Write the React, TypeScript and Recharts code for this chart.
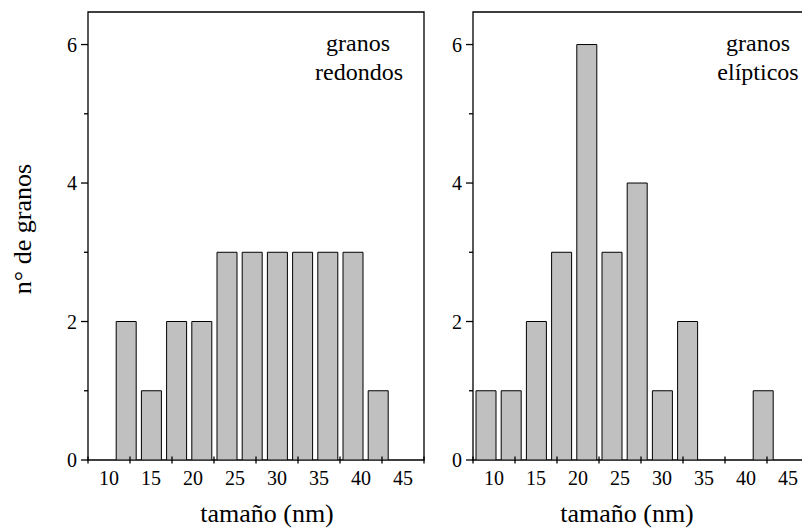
import React from 'react';
import { BarChart, Bar, XAxis, YAxis, ReferenceArea } from 'recharts';

// ---- data ----
const sizes = [9, 12, 15, 18, 21, 24, 27, 30, 33, 36, 39, 42];
const countsRound = [null, 2, 1, 2, 2, 3, 3, 3, 3, 3, 3, 1];
const countsElliptic = [1, 1, 2, 3, 6, 3, 4, 1, 2, 0, 0, 1];

const xLabelTicks = [10, 15, 20, 25, 30, 35, 40, 45];
const xMarkTicks = [7.5, 12.5, 17.5, 22.5, 27.5, 32.5, 37.5, 42.5, 47.5];
const yTicks = [0, 1, 2, 3, 4, 5, 6];
const yLabelTicks = [0, 2, 4, 6];

const TITLE_X = 'tama\u00f1o (nm)';
const TITLE_Y = 'n\u00b0 de granos';
const NOTE_ROUND = ['granos', 'redondos'];
const NOTE_ELLIPTIC = ['granos', 'el\u00edpticos'];

// ---- layout ----
const PLOT_LEFT = 88;
const PANEL_WIDTH = 336; // 7.5 .. 47.5
const PANEL_SHIFT_PX = 385; // right panel offset
const PX_PER_UNIT = PANEL_WIDTH / 40;
const SHIFT_UNITS = PANEL_SHIFT_PX / PX_PER_UNIT;
const FULL_UNITS = (802 - PLOT_LEFT) / PX_PER_UNIT;

const PANEL_RANGE: [number, number] = [7.5, 47.5];
const Y_DOMAIN: [number, number] = [0, 6.47];
const X_DOMAIN_ROUND: [number, number] = [7.5, 7.5 + FULL_UNITS];
const X_DOMAIN_ELLIPTIC: [number, number] = [7.5 - SHIFT_UNITS, 7.5 + FULL_UNITS - SHIFT_UNITS];

const data = sizes.map((s, i) => ({
  size: s,
  round: countsRound[i] === null ? undefined : countsRound[i],
  elliptic: countsElliptic[i],
}));

const panelTicks = [...xMarkTicks, ...xLabelTicks].sort((a, b) => a - b);
const allXTicks = [
  ...panelTicks,
  ...panelTicks.map((t) => t + SHIFT_UNITS).filter((t) => t <= X_DOMAIN_ROUND[1]),
];

const FONT = 'Liberation Serif';

const XTick = (props: any) => {
  const { x, y, payload } = props;
  let v = payload.value;
  if (v > PANEL_RANGE[1] + 0.01) v = Math.round((v - SHIFT_UNITS) * 100) / 100;
  if (xLabelTicks.includes(v)) {
    return (
      <text x={x} y={y + 25} textAnchor="middle" fontSize={20} fontFamily={FONT} fill="#000">
        {v}
      </text>
    );
  }
  return (
    <g>
      <rect x={x - 0.65} y={y - 3.5} width={1.3} height={7} fill="#000" />
    </g>
  );
};

const YTick = (props: any) => {
  const { x, y, payload } = props;
  const v = payload.value;
  const major = yLabelTicks.includes(v);
  const len = major ? 7 : 4;
  return (
    <g>
      {[0, PANEL_SHIFT_PX].map((dx) => (
        <g key={dx}>
          <rect x={x + dx - len} y={y - 0.65} width={len} height={1.3} fill="#000" />
          {major && (
            <text x={x + dx - 11} y={y + 7} textAnchor="end" fontSize={20} fontFamily={FONT} fill="#000">
              {v}
            </text>
          )}
        </g>
      ))}
    </g>
  );
};

const MARGIN = { top: 12, right: 0, left: 0, bottom: 0 };

export default function App() {
  return (
    <div
      style={{
        position: 'absolute',
        left: 0,
        top: 0,
        width: 802,
        height: 528,
        overflow: 'hidden',
        background: '#fff',
      }}
    >
      <BarChart width={802} height={528} data={data} margin={MARGIN}>
        <XAxis
          xAxisId="e"
          dataKey="size"
          type="number"
          orientation="top"
          domain={X_DOMAIN_ELLIPTIC}
          height={0}
          hide
          allowDataOverflow
        />
        <XAxis
          xAxisId="r"
          dataKey="size"
          type="number"
          domain={X_DOMAIN_ROUND}
          ticks={allXTicks}
          interval={0}
          tick={XTick}
          tickLine={false}
          axisLine={false}
          tickSize={0}
          tickMargin={0}
          height={68}
          allowDataOverflow
        />
        <YAxis
          type="number"
          domain={Y_DOMAIN}
          ticks={yTicks}
          interval={0}
          tick={YTick}
          tickLine={false}
          axisLine={false}
          tickSize={0}
          tickMargin={0}
          width={PLOT_LEFT}
          allowDataOverflow
        />
        <Bar
          xAxisId="r"
          dataKey="round"
          fill="#c0c0c0"
          stroke="#000"
          strokeWidth={1}
          barSize={20}
          isAnimationActive={false}
        />
        <Bar
          xAxisId="e"
          dataKey="elliptic"
          fill="#c0c0c0"
          stroke="#000"
          strokeWidth={1}
          barSize={20}
          isAnimationActive={false}
        />
        <ReferenceArea
          xAxisId="r"
          x1={PANEL_RANGE[0]}
          x2={PANEL_RANGE[1]}
          y1={Y_DOMAIN[0]}
          y2={Y_DOMAIN[1]}
          fill="none"
          stroke="#000"
          strokeWidth={1.3}
          ifOverflow="visible"
        />
        <ReferenceArea
          xAxisId="e"
          x1={PANEL_RANGE[0]}
          x2={PANEL_RANGE[1]}
          y1={Y_DOMAIN[0]}
          y2={Y_DOMAIN[1]}
          fill="none"
          stroke="#000"
          strokeWidth={1.3}
          ifOverflow="visible"
        />
      </BarChart>
      <svg width={802} height={528} style={{ position: 'absolute', left: 0, top: 0 }}>
        <text x={358} y={51} textAnchor="middle" fontFamily={FONT} fontSize={24} fill="#000">{NOTE_ROUND[0]}</text>
        <text x={359} y={80} textAnchor="middle" fontFamily={FONT} fontSize={24} fill="#000">{NOTE_ROUND[1]}</text>
        <text x={758} y={51} textAnchor="middle" fontFamily={FONT} fontSize={24} fill="#000">{NOTE_ELLIPTIC[0]}</text>
        <text x={758} y={80} textAnchor="middle" fontFamily={FONT} fontSize={24} fill="#000">{NOTE_ELLIPTIC[1]}</text>
        <text x={267} y={522} textAnchor="middle" fontFamily={FONT} fontSize={26} fill="#000">{TITLE_X}</text>
        <text x={627} y={522} textAnchor="middle" fontFamily={FONT} fontSize={26} fill="#000">{TITLE_X}</text>
        <text
          x={31}
          y={229}
          textAnchor="middle"
          fontFamily={FONT}
          fontSize={26}
          fill="#000"
          transform="rotate(-90 31 229)"
        >
          {TITLE_Y}
        </text>
      </svg>
    </div>
  );
}
